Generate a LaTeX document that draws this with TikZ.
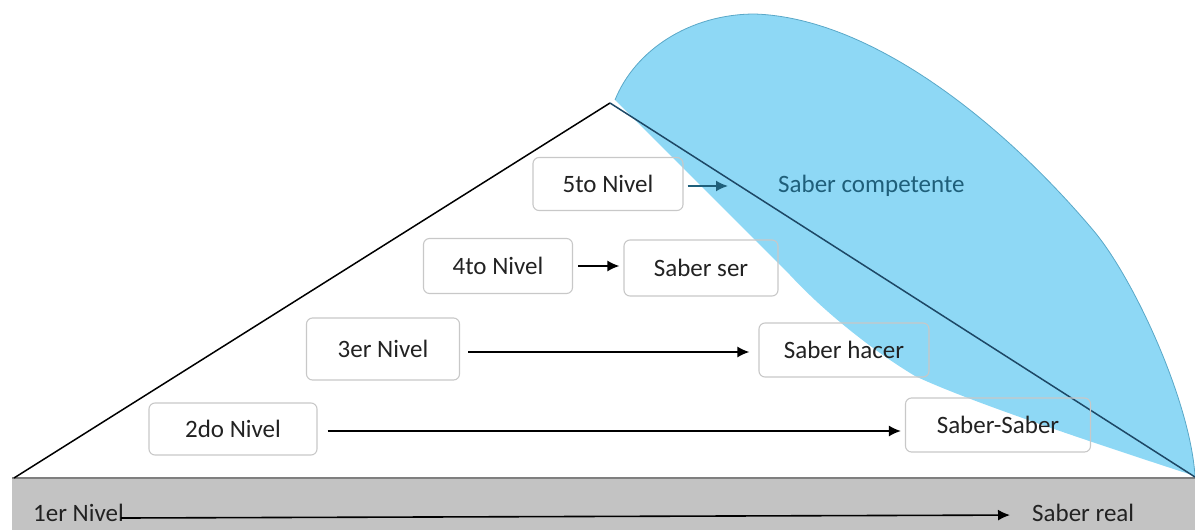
\documentclass[tikz,border=0pt]{standalone}
\usepackage{fontspec}
\setmainfont{Carlito}
\usetikzlibrary{arrows.meta}
\definecolor{txt}{HTML}{222222}
\definecolor{boxline}{HTML}{C8C8C8}
\definecolor{lobe}{HTML}{8ED8F5}
\definecolor{lobeline}{HTML}{5AA8C8}
\definecolor{teal}{HTML}{1F5F7A}
\definecolor{navy}{HTML}{1D4866}
\definecolor{bar}{HTML}{C3C3C3}
\definecolor{barline}{HTML}{7F7F7F}
\tikzset{
  lvlbox/.style={draw=boxline, line width=1.1pt, rounded corners=6pt, text=txt, inner sep=0pt},
  lbl/.style={text=txt, inner sep=0pt, anchor=west},
  arr/.style={-{Latex[length=12pt,width=11pt]}, line width=1.8pt, black},
}
\begin{document}
\begin{tikzpicture}[x=1pt,y=-1pt,font=\fontsize{25}{29}\selectfont]
\useasboundingbox (0,0) rectangle (1195,530);
% gray base bar
\fill[bar] (12,478) rectangle (1195,530);
\draw[barline, line width=2pt] (12,478) -- (1195,478);
% blue lobe
\coordinate (l0) at (615,100);
\coordinate (l1) at (755,14);
\coordinate (l2) at (1093,230);
\coordinate (l3) at (1195,476);
\coordinate (l4) at (915,376);
\coordinate (l5) at (790,275);
\fill[lobe] (l0) .. controls (635,50) and (690,14) .. (l1)
  .. controls (870,18) and (1000,120) .. (l2)
  .. controls (1133,277) and (1190,400) .. (l3)
  .. controls (1100,445) and (970,402) .. (l4)
  .. controls (880,355) and (830,318) .. (l5)
  .. controls (740,225) and (670,155) .. (l0) -- cycle;
\draw[lobeline, line width=0.8pt] (l0) .. controls (635,50) and (690,14) .. (l1)
  .. controls (870,18) and (1000,120) .. (l2)
  .. controls (1133,277) and (1190,400) .. (l3);
% triangle
\coordinate (tl) at (14,478);
\coordinate (tt) at (610,103);
\coordinate (tr) at (1195,477);
\draw[black, line width=1.5pt] (tl) -- (tt);
\draw[navy, line width=1.5pt] (tt) -- (tr);
% boxes
\node[lvlbox, minimum width=150pt, minimum height=53pt] (n5) at (608,184) {5to Nivel};
\node[lvlbox, minimum width=149pt, minimum height=55pt] (n4) at (498,266) {4to Nivel};
\node[lvlbox, minimum width=154pt, minimum height=56pt] (ss) at (701,268) {Saber ser};
\node[lvlbox, minimum width=153pt, minimum height=62pt] (n3) at (383,349) {3er Nivel};
\node[lvlbox, minimum width=170pt, minimum height=54pt] (sh) at (844,350) {Saber hacer};
\node[lvlbox, minimum width=168pt, minimum height=52pt] (n2) at (233,429) {2do Nivel};
\node[lvlbox, minimum width=185pt, minimum height=54pt] (sS) at (998,425) {Saber-Saber};
% plain labels
\node[lbl, text=teal] (sc) at (778,186) {Saber competente};
\node[lbl] (n1) at (33,513) {1er Nivel};
\node[lbl] (sr) at (1032,513) {Saber real};
% connectors
\draw[arr, teal, shorten <=4pt, shorten >=50pt] (n5.east |- sc.west) -- (sc.west);
\draw[arr, shorten <=5pt, shorten >=4pt] (n4.east) -- (n4.east -| ss.west);
\draw[arr, shorten <=8pt, shorten >=9pt] (n3.east) ++(0,3) coordinate (a3) (a3) -- (a3 -| sh.west);
\draw[arr, shorten <=10pt, shorten >=4pt] (n2.east) ++(0,2) coordinate (a2) (a2) -- (a2 -| sS.west);
\draw[arr, line width=1.6pt, shorten <=-3pt, shorten >=22pt] ([yshift=-5pt]n1.east) -- ([yshift=-2pt]n1.east -| sr.west);
\end{tikzpicture}
\end{document}
